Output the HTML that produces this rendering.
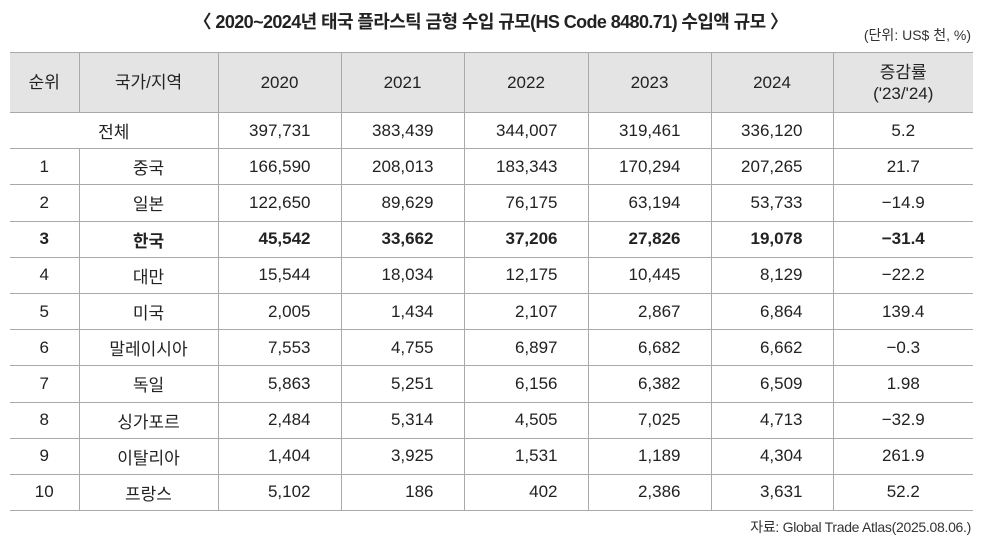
<!DOCTYPE html>
<html><head><meta charset="utf-8"><style>
body{margin:0;width:981px;height:543px;background:#fff;font-family:"Liberation Sans","Noto Sans CJK KR",sans-serif;color:#222;position:relative;overflow:hidden}
#title{position:absolute;left:0;width:981px;top:8px;text-align:center;font-size:18px;font-weight:bold;letter-spacing:-0.6px;color:#222}
#unit{position:absolute;right:10px;top:25px;font-size:14px;color:#333}
#src{position:absolute;right:10px;top:517px;font-size:14px;color:#333;letter-spacing:-0.3px}
table{position:absolute;left:10px;top:52px;border-collapse:collapse;table-layout:fixed;width:963px;font-size:17px}
td,th{border:1px solid #aaa;padding:0;height:35.2px;text-align:center;font-weight:normal}
th{background:#e4e4e4;height:59px;line-height:21px}
tr td:first-child,tr th:first-child{border-left:none}
tr td:last-child,tr th:last-child{border-right:none}
td.n{text-align:right;padding-right:30px}
tr.b td{font-weight:bold}
</style></head><body>
<div id="title">〈 2020~2024년 태국 플라스틱 금형 수입 규모(HS Code 8480.71) 수입액 규모 〉</div>
<div id="unit">(단위: US$ 천, %)</div>
<table>
<colgroup><col style="width:69px"><col style="width:139px"><col style="width:123px"><col style="width:123px"><col style="width:124px"><col style="width:123px"><col style="width:122px"><col style="width:140px"></colgroup>
<tr><th>순위</th><th>국가/지역</th><th>2020</th><th>2021</th><th>2022</th><th>2023</th><th>2024</th><th>증감률<br>('23/'24)</th></tr>
<tr><td colspan="2">전체</td><td class="n">397,731</td><td class="n">383,439</td><td class="n">344,007</td><td class="n">319,461</td><td class="n">336,120</td><td>5.2</td></tr>
<tr><td>1</td><td>중국</td><td class="n">166,590</td><td class="n">208,013</td><td class="n">183,343</td><td class="n">170,294</td><td class="n">207,265</td><td>21.7</td></tr>
<tr><td>2</td><td>일본</td><td class="n">122,650</td><td class="n">89,629</td><td class="n">76,175</td><td class="n">63,194</td><td class="n">53,733</td><td>−14.9</td></tr>
<tr class="b"><td>3</td><td>한국</td><td class="n">45,542</td><td class="n">33,662</td><td class="n">37,206</td><td class="n">27,826</td><td class="n">19,078</td><td>−31.4</td></tr>
<tr><td>4</td><td>대만</td><td class="n">15,544</td><td class="n">18,034</td><td class="n">12,175</td><td class="n">10,445</td><td class="n">8,129</td><td>−22.2</td></tr>
<tr><td>5</td><td>미국</td><td class="n">2,005</td><td class="n">1,434</td><td class="n">2,107</td><td class="n">2,867</td><td class="n">6,864</td><td>139.4</td></tr>
<tr><td>6</td><td>말레이시아</td><td class="n">7,553</td><td class="n">4,755</td><td class="n">6,897</td><td class="n">6,682</td><td class="n">6,662</td><td>−0.3</td></tr>
<tr><td>7</td><td>독일</td><td class="n">5,863</td><td class="n">5,251</td><td class="n">6,156</td><td class="n">6,382</td><td class="n">6,509</td><td>1.98</td></tr>
<tr><td>8</td><td>싱가포르</td><td class="n">2,484</td><td class="n">5,314</td><td class="n">4,505</td><td class="n">7,025</td><td class="n">4,713</td><td>−32.9</td></tr>
<tr><td>9</td><td>이탈리아</td><td class="n">1,404</td><td class="n">3,925</td><td class="n">1,531</td><td class="n">1,189</td><td class="n">4,304</td><td>261.9</td></tr>
<tr><td>10</td><td>프랑스</td><td class="n">5,102</td><td class="n">186</td><td class="n">402</td><td class="n">2,386</td><td class="n">3,631</td><td>52.2</td></tr>
</table>
<div id="src">자료: Global Trade Atlas(2025.08.06.)</div>
</body></html>
